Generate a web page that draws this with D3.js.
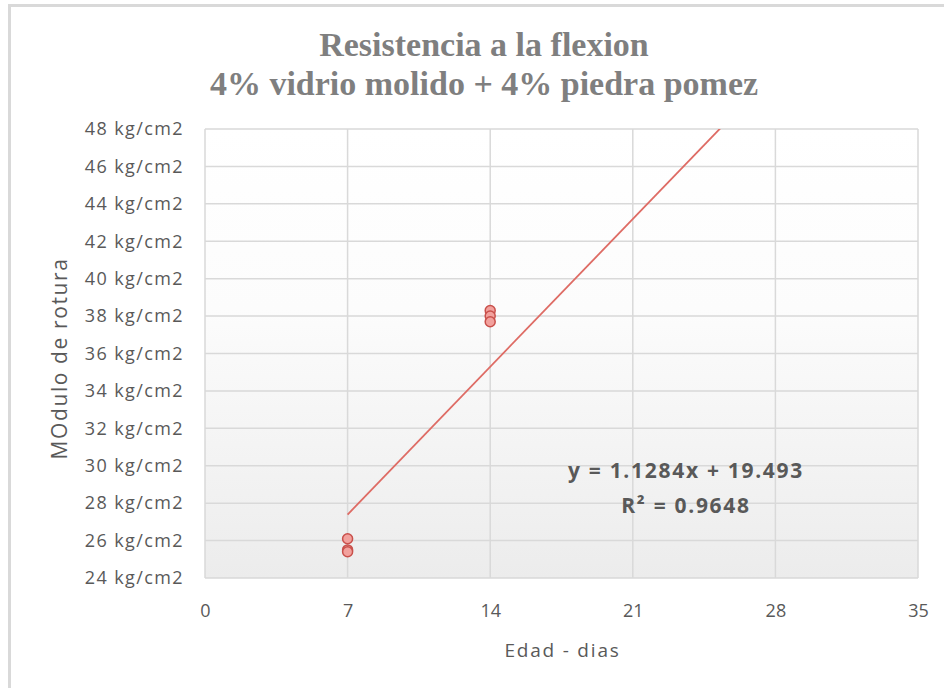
<!DOCTYPE html>
<html lang="es">
<head>
<meta charset="UTF-8" />
<title>Resistencia a la flexion</title>
<script src="https://cdn.jsdelivr.net/npm/d3@7"></script>
<style>
  body { margin: 0; background: #fff; }
</style>
</head>
<body>
<svg id="vis" width="944" height="688"></svg>
<script>
// valeurs
const edad = [7, 7, 7, 14, 14, 14];
const modulo = [26.1, 25.5, 25.4, 38.3, 38.0, 37.7];
const xTicks = [0, 7, 14, 21, 28, 35];
const yTicks = [24, 26, 28, 30, 32, 34, 36, 38, 40, 42, 44, 46, 48];
const pente = 1.1284;
const origine = 19.493;
const r2 = 0.9648;
const trendDomain = [7, 28];

const svg = d3.select("#vis");

// cadre du graphique
svg.append("rect")
  .attr("x", 9.5).attr("y", 5.5)
  .attr("width", 944).attr("height", 700)
  .attr("fill", "#fff")
  .attr("stroke", "#d9d9d9").attr("stroke-width", 3);

const mLeft = 205, mRight = 918, mTop = 129, mBottom = 578;

const scaleX = d3.scaleLinear().domain([0, 35]).range([mLeft, mRight]);
const scaleY = d3.scaleLinear().domain([24, 48]).range([mBottom, mTop]);

// dégradé de la zone de tracé
const defs = svg.append("defs");
const grad = defs.append("linearGradient").attr("id", "fond")
  .attr("x1", 0).attr("y1", 0).attr("x2", 0).attr("y2", 1);
grad.append("stop").attr("offset", "0%").attr("stop-color", "#ffffff");
grad.append("stop").attr("offset", "40%").attr("stop-color", "#fcfcfc");
grad.append("stop").attr("offset", "100%").attr("stop-color", "#ececec");
defs.append("clipPath").attr("id", "clip")
  .append("rect").attr("x", mLeft).attr("y", mTop)
  .attr("width", mRight - mLeft).attr("height", mBottom - mTop);

svg.append("rect")
  .attr("x", mLeft).attr("y", mTop)
  .attr("width", mRight - mLeft).attr("height", mBottom - mTop)
  .attr("fill", "url(#fond)");

// grilles
const grid = svg.append("g").attr("stroke", "#d9d9d9").attr("stroke-width", 1.5);
for (let t of yTicks) {
  grid.append("line")
    .attr("x1", mLeft).attr("x2", mRight)
    .attr("y1", scaleY(t)).attr("y2", scaleY(t));
}
for (let t of xTicks) {
  grid.append("line")
    .attr("x1", scaleX(t)).attr("x2", scaleX(t))
    .attr("y1", mTop).attr("y2", mBottom);
}

// axes
const yAxis = d3.axisLeft(scaleY).tickValues(yTicks)
  .tickFormat(d => d + " kg/cm2").tickSize(0).tickPadding(21);
const gy = svg.append("g").attr("transform", `translate(${mLeft},0)`).call(yAxis);
gy.select(".domain").remove();
gy.selectAll("text").attr("fill", "#595959")
  .style("font-family", "'Open Sans', sans-serif").style("font-size", "18px")
  .style("letter-spacing", "1.4px");

const xAxis = d3.axisBottom(scaleX).tickValues(xTicks).tickSize(0).tickPadding(26);
const gx = svg.append("g").attr("transform", `translate(0,${mBottom})`).call(xAxis);
gx.select(".domain").remove();
gx.selectAll("text").attr("fill", "#595959")
  .style("font-family", "'Open Sans', sans-serif").style("font-size", "18px");

// ligne de tendance
const trend = svg.append("g").attr("clip-path", "url(#clip)");
trend.append("line")
  .attr("x1", scaleX(trendDomain[0])).attr("y1", scaleY(pente * trendDomain[0] + origine))
  .attr("x2", scaleX(trendDomain[1])).attr("y2", scaleY(pente * trendDomain[1] + origine))
  .attr("stroke", "#de6b64").attr("stroke-width", 1.8);

// points
const pts = svg.append("g");
for (let i = 0; i < edad.length; i++) {
  pts.append("circle")
    .attr("cx", scaleX(edad[i]))
    .attr("cy", scaleY(modulo[i]))
    .attr("r", 5)
    .attr("fill", "#f2a19d")
    .attr("stroke", "#c9504b")
    .attr("stroke-width", 1.5);
}

// titres
const titre = svg.append("text")
  .attr("text-anchor", "middle")
  .attr("fill", "#7f7f7f")
  .style("font-family", "'Liberation Serif', serif")
  .style("font-weight", "bold")
  .style("font-size", "34px");
titre.append("tspan").attr("x", 484).attr("y", 56).text("Resistencia a la flexion");
titre.append("tspan").attr("x", 484).attr("y", 95).text("4% vidrio molido + 4% piedra pomez");

svg.append("text")
  .attr("transform", `translate(67,${(mTop + mBottom) / 2 + 5}) rotate(-90)`)
  .attr("text-anchor", "middle")
  .attr("fill", "#595959")
  .style("font-family", "'Open Sans', sans-serif").style("font-size", "21px")
  .style("letter-spacing", "1.6px")
  .text("MOdulo de rotura");

svg.append("text")
  .attr("x", (mLeft + mRight) / 2 + 1).attr("y", 657)
  .attr("text-anchor", "middle")
  .attr("fill", "#595959")
  .style("font-family", "'Open Sans', sans-serif").style("font-size", "19px")
  .style("letter-spacing", "1.8px")
  .text("Edad - dias");

// équation
const eq = svg.append("text")
  .attr("text-anchor", "middle")
  .attr("fill", "#595959")
  .style("font-family", "'Open Sans', sans-serif")
  .style("font-weight", "bold").style("font-size", "21px")
  .style("letter-spacing", "1.7px");
eq.append("tspan").attr("x", 686).attr("y", 478)
  .text(`y = ${pente}x + ${origine}`);
eq.append("tspan").attr("x", 686).attr("y", 513)
  .text(`R² = ${r2}`);
</script>
</body>
</html>
